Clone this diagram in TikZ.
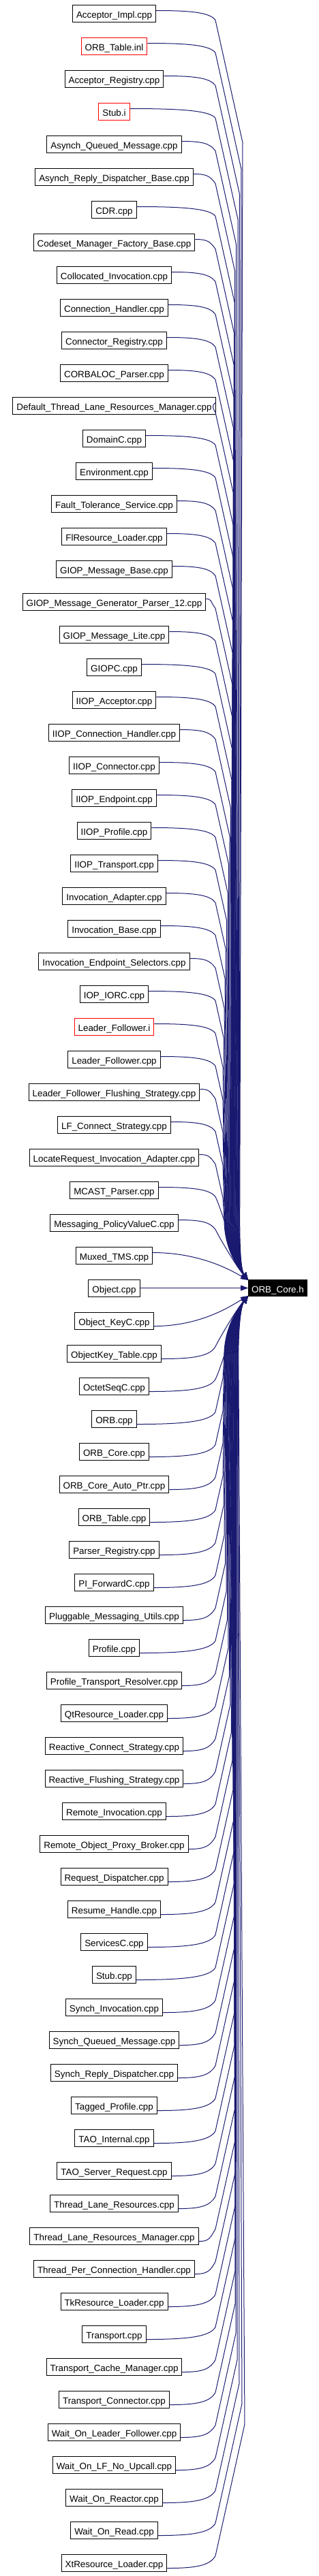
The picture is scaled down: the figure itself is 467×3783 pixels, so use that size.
\documentclass[tikz,border=0pt]{standalone}
\usepackage{fontspec}
\setmainfont{Liberation Sans}
\usetikzlibrary{arrows.meta,calc}
\definecolor{edgeblue}{RGB}{25,25,112}
\def\topJ{{0,327,327,327,327,327,327,327,327,328,329,330,331,332.5,334,335.5,337,338.5,340,340.5,341,341,341,341.5,341.5,342,342,342,342.5,342.5,343,343,343.5,344,344.5,346.5,349,351.5,354,356}}
\def\botJ{{0,327,327,327,327,327,327,327,328,329,330.5,332,333.5,335,336.5,338,339.5,341,342,343,343.5,343.5,343.5,344,344,344,344,344.5,344.5,344.5,345,345,345,345,345,346,348,351,355,359}}
\begin{document}
\begin{tikzpicture}[x=1pt,y=-1pt,
  box/.style={draw, line width=1pt, font=\fontsize{13.4pt}{16pt}\selectfont,
    inner xsep=5.5pt, inner ysep=0pt, minimum height=25pt, text height=13pt, text depth=0pt},
  corebox/.style={box, fill=black, text=white, inner xsep=4.5pt, minimum height=24pt},
  edge/.style={draw=edgeblue, line width=1pt, line join=round, -{Triangle[length=11pt,width=8pt]}}]
\useasboundingbox (0,0) rectangle (467,3783);
\foreach \t/\c [count=\i] in {Acceptor\_Impl.cpp/black, ORB\_Table.inl/red, Acceptor\_Registry.cpp/black, Stub.i/red, Asynch\_Queued\_Message.cpp/black, Asynch\_Reply\_Dispatcher\_Base.cpp/black, CDR.cpp/black, Codeset\_Manager\_Factory\_Base.cpp/black, Collocated\_Invocation.cpp/black, Connection\_Handler.cpp/black, Connector\_Registry.cpp/black, CORBALOC\_Parser.cpp/black, Default\_Thread\_Lane\_Resources\_Manager.cpp/black, DomainC.cpp/black, Environment.cpp/black, Fault\_Tolerance\_Service.cpp/black, FlResource\_Loader.cpp/black, GIOP\_Message\_Base.cpp/black, GIOP\_Message\_Generator\_Parser\_12.cpp/black, GIOP\_Message\_Lite.cpp/black, GIOPC.cpp/black, IIOP\_Acceptor.cpp/black, IIOP\_Connection\_Handler.cpp/black, IIOP\_Connector.cpp/black, IIOP\_Endpoint.cpp/black, IIOP\_Profile.cpp/black, IIOP\_Transport.cpp/black, Invocation\_Adapter.cpp/black, Invocation\_Base.cpp/black, Invocation\_Endpoint\_Selectors.cpp/black, IOP\_IORC.cpp/black, Leader\_Follower.i/red, Leader\_Follower.cpp/black, Leader\_Follower\_Flushing\_Strategy.cpp/black, LF\_Connect\_Strategy.cpp/black, LocateRequest\_Invocation\_Adapter.cpp/black, MCAST\_Parser.cpp/black, Messaging\_PolicyValueC.cpp/black, Muxed\_TMS.cpp/black, Object.cpp/black, Object\_KeyC.cpp/black, ObjectKey\_Table.cpp/black, OctetSeqC.cpp/black, ORB.cpp/black, ORB\_Core.cpp/black, ORB\_Core\_Auto\_Ptr.cpp/black, ORB\_Table.cpp/black, Parser\_Registry.cpp/black, PI\_ForwardC.cpp/black, Pluggable\_Messaging\_Utils.cpp/black, Profile.cpp/black, Profile\_Transport\_Resolver.cpp/black, QtResource\_Loader.cpp/black, Reactive\_Connect\_Strategy.cpp/black, Reactive\_Flushing\_Strategy.cpp/black, Remote\_Invocation.cpp/black, Remote\_Object\_Proxy\_Broker.cpp/black, Request\_Dispatcher.cpp/black, Resume\_Handle.cpp/black, ServicesC.cpp/black, Stub.cpp/black, Synch\_Invocation.cpp/black, Synch\_Queued\_Message.cpp/black, Synch\_Reply\_Dispatcher.cpp/black, Tagged\_Profile.cpp/black, TAO\_Internal.cpp/black, TAO\_Server\_Request.cpp/black, Thread\_Lane\_Resources.cpp/black, Thread\_Lane\_Resources\_Manager.cpp/black, Thread\_Per\_Connection\_Handler.cpp/black, TkResource\_Loader.cpp/black, Transport.cpp/black, Transport\_Cache\_Manager.cpp/black, Transport\_Connector.cpp/black, Wait\_On\_Leader\_Follower.cpp/black, Wait\_On\_LF\_No\_Upcall.cpp/black, Wait\_On\_Reactor.cpp/black, Wait\_On\_Read.cpp/black, XtResource\_Loader.cpp/black}
{
  \node[box, draw=\c] (n\i) at (167.5,{19.5+48*(\i-1)}) {\t};
}
\node[corebox] (core) at (407.5,1891.5) {ORB\_Core.h};
\draw[edge] (n40.east) -- (core.west);
\foreach \i in {1,...,79}{
  \pgfmathsetmacro\yi{19.5+48*(\i-1)}
  \ifnum\i<40
    \pgfmathtruncatemacro\k{40-\i}
    \pgfmathsetmacro\xJ{\topJ[\k]}
    \pgfmathsetmacro\xM{327+(\k-1)*0.65}
    \pgfmathsetmacro\ys{\yi-4}
    \pgfmathsetmacro\yc{\yi-1}
    \pgfmathsetmacro\yb{\yi+10}
    \pgfmathsetmacro\yJ{\yb+4.5*(\xJ-316)}
    \pgfmathsetmacro\yd{\yb+20}
    \ifnum\k=1
      \draw[edge] ([yshift=4pt]n\i.east) .. controls +(70,0) and (340,1866) .. (364,1880);
    \else\ifnum\k<4
      \draw[edge] ([yshift=4pt]n\i.east) coordinate (s) .. controls ($(s)!0.6!(316,\ys)$) and (308,\yc) .. (316,\yb) .. controls (326,\yd) and (350,1864) .. (364,1880);
    \else
      \draw[edge] ([yshift=4pt]n\i.east) coordinate (s) .. controls ($(s)!0.6!(316,\ys)$) and (308,\yc) .. (316,\yb) -- (\xJ,\yJ) -- (\xM,1790) .. controls (\xM,1840) and (354,1866) .. (364,1880);
    \fi\fi
  \else\ifnum\i>40
    \pgfmathtruncatemacro\k{\i-40}
    \pgfmathsetmacro\xJ{\botJ[\k]}
    \pgfmathsetmacro\xM{327+(\k-1)*0.6}
    \pgfmathsetmacro\ys{\yi+8}
    \pgfmathsetmacro\yc{\yi+4}
    \pgfmathsetmacro\yb{\yi-10}
    \pgfmathsetmacro\yJ{\yb-4.5*(\xJ-316)}
    \pgfmathsetmacro\yd{\yb-20}
    \ifnum\k=1
      \draw[edge] ([yshift=-8pt]n\i.east) .. controls +(70,0) and (340,1917) .. (364,1903);
    \else\ifnum\k<4
      \draw[edge] ([yshift=-8pt]n\i.east) coordinate (s) .. controls ($(s)!0.6!(316,\ys)$) and (308,\yc) .. (316,\yb) .. controls (326,\yd) and (350,1919) .. (364,1903);
    \else
      \draw[edge] ([yshift=-8pt]n\i.east) coordinate (s) .. controls ($(s)!0.6!(316,\ys)$) and (308,\yc) .. (316,\yb) -- (\xJ,\yJ) -- (\xM,1993) .. controls (\xM,1943) and (354,1917) .. (364,1903);
    \fi\fi
  \fi\fi
}
\end{tikzpicture}
\end{document}
